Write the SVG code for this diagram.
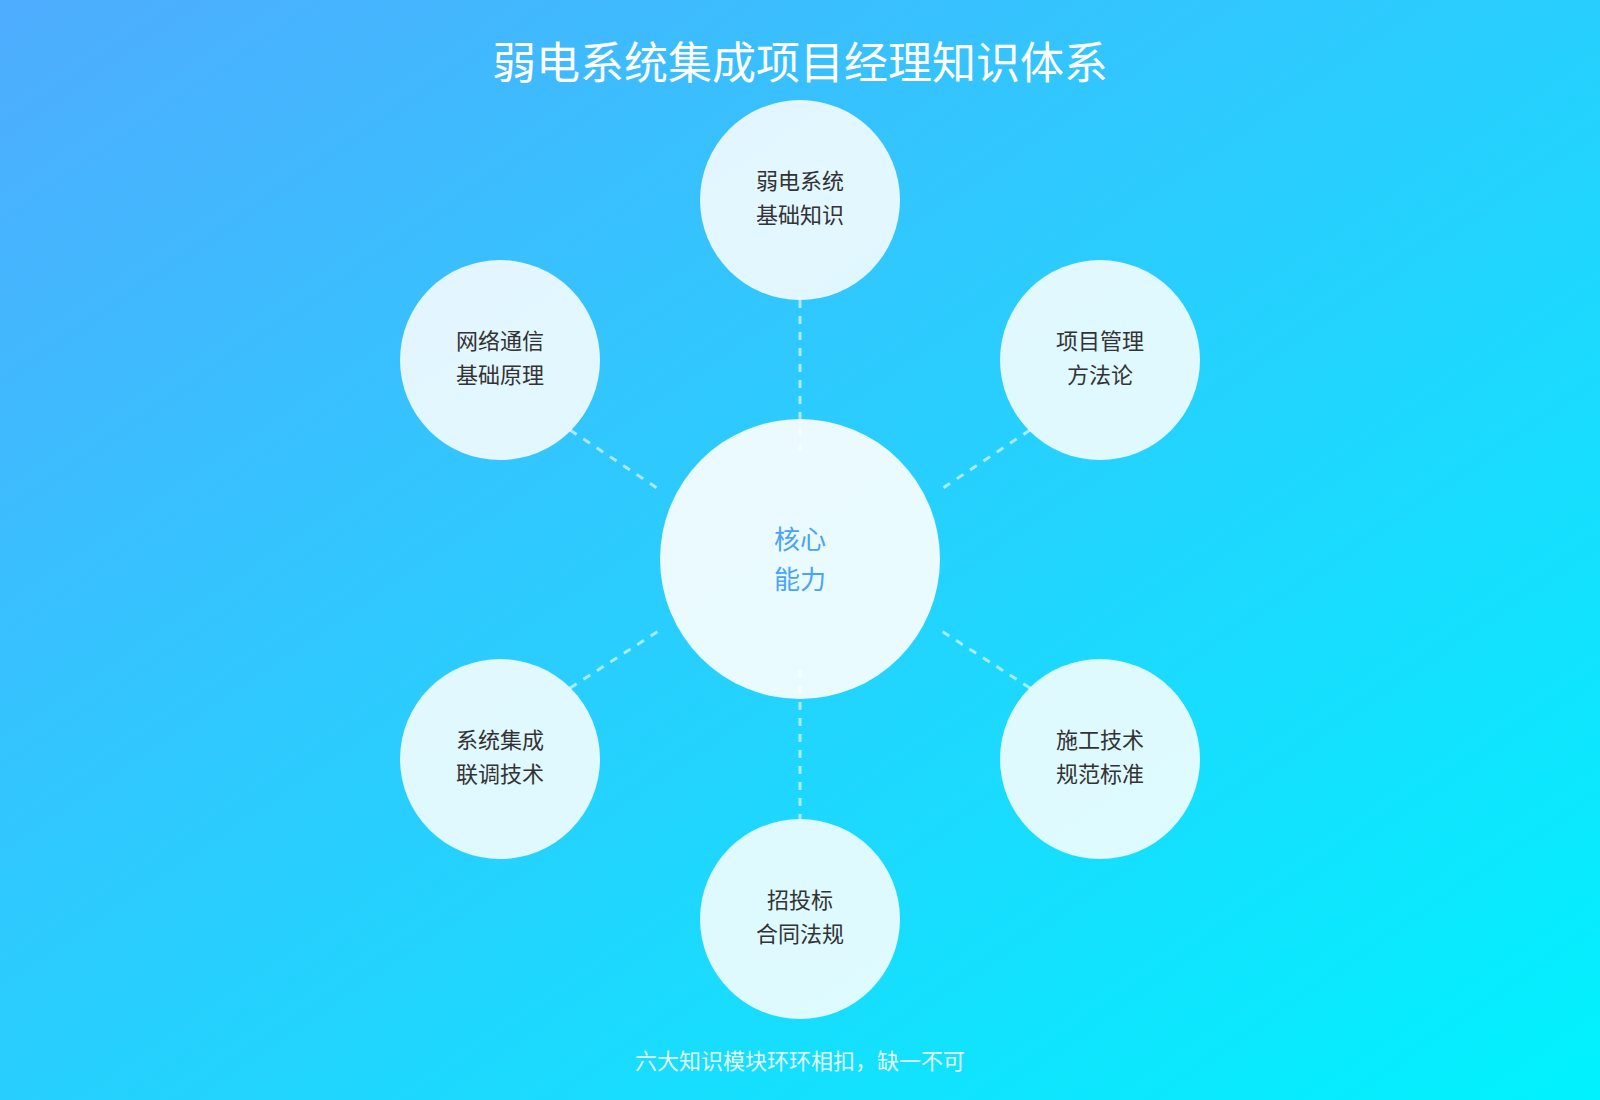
<svg xmlns="http://www.w3.org/2000/svg" width="1600" height="1100" viewBox="0 0 1600 1100">
<defs>
<linearGradient id="bg" x1="0" y1="0" x2="1" y2="1">
<stop offset="0" stop-color="#4facfe"/><stop offset="1" stop-color="#00f2fe"/>
</linearGradient>
<style>
text{font-family:"Noto Sans CJK SC","Noto Sans",sans-serif;text-anchor:middle}
.n{fill:#ffffff;fill-opacity:0.86}
.c{fill:#ffffff;fill-opacity:0.9}
.t{font-size:22px;fill:#333333}
.ct{font-size:26px;fill:#4aa3f5}
.l{stroke:#ffffff;stroke-opacity:0.6;stroke-width:3;stroke-dasharray:8 8;fill:none}
</style>
</defs>
<rect width="1600" height="1100" fill="url(#bg)"/>
<text x="800" y="79" style="font-size:44px;fill:#ffffff">弱电系统集成项目经理知识体系</text>
<g id="connectors">
<line class="l" x1="800" y1="300" x2="800" y2="450"/>
<line class="l" x1="800" y1="670" x2="800" y2="820"/>
<line class="l" x1="570" y1="430" x2="660" y2="490"/>
<line class="l" x1="1030" y1="430" x2="940" y2="490"/>
<line class="l" x1="570" y1="688" x2="660" y2="630"/>
<line class="l" x1="1030" y1="688" x2="940" y2="630"/>
</g>
<g id="center"><circle class="c" cx="800" cy="559" r="140"/>
<text class="ct" x="800" y="549">核心</text><text class="ct" x="800" y="589">能力</text></g>
<g id="n1"><circle class="n" cx="800" cy="200" r="100"/><text class="t" x="800" y="189">弱电系统</text><text class="t" x="800" y="223">基础知识</text></g>
<g id="n2"><circle class="n" cx="1100" cy="360" r="100"/><text class="t" x="1100" y="349">项目管理</text><text class="t" x="1100" y="383">方法论</text></g>
<g id="n3"><circle class="n" cx="1100" cy="759" r="100"/><text class="t" x="1100" y="748">施工技术</text><text class="t" x="1100" y="782">规范标准</text></g>
<g id="n4"><circle class="n" cx="800" cy="919" r="100"/><text class="t" x="800" y="908">招投标</text><text class="t" x="800" y="942">合同法规</text></g>
<g id="n5"><circle class="n" cx="500" cy="759" r="100"/><text class="t" x="500" y="748">系统集成</text><text class="t" x="500" y="782">联调技术</text></g>
<g id="n6"><circle class="n" cx="500" cy="360" r="100"/><text class="t" x="500" y="349">网络通信</text><text class="t" x="500" y="383">基础原理</text></g>
<text x="800" y="1069" style="font-size:22px;fill:#ffffff;fill-opacity:0.9">六大知识模块环环相扣，缺一不可</text>
</svg>
